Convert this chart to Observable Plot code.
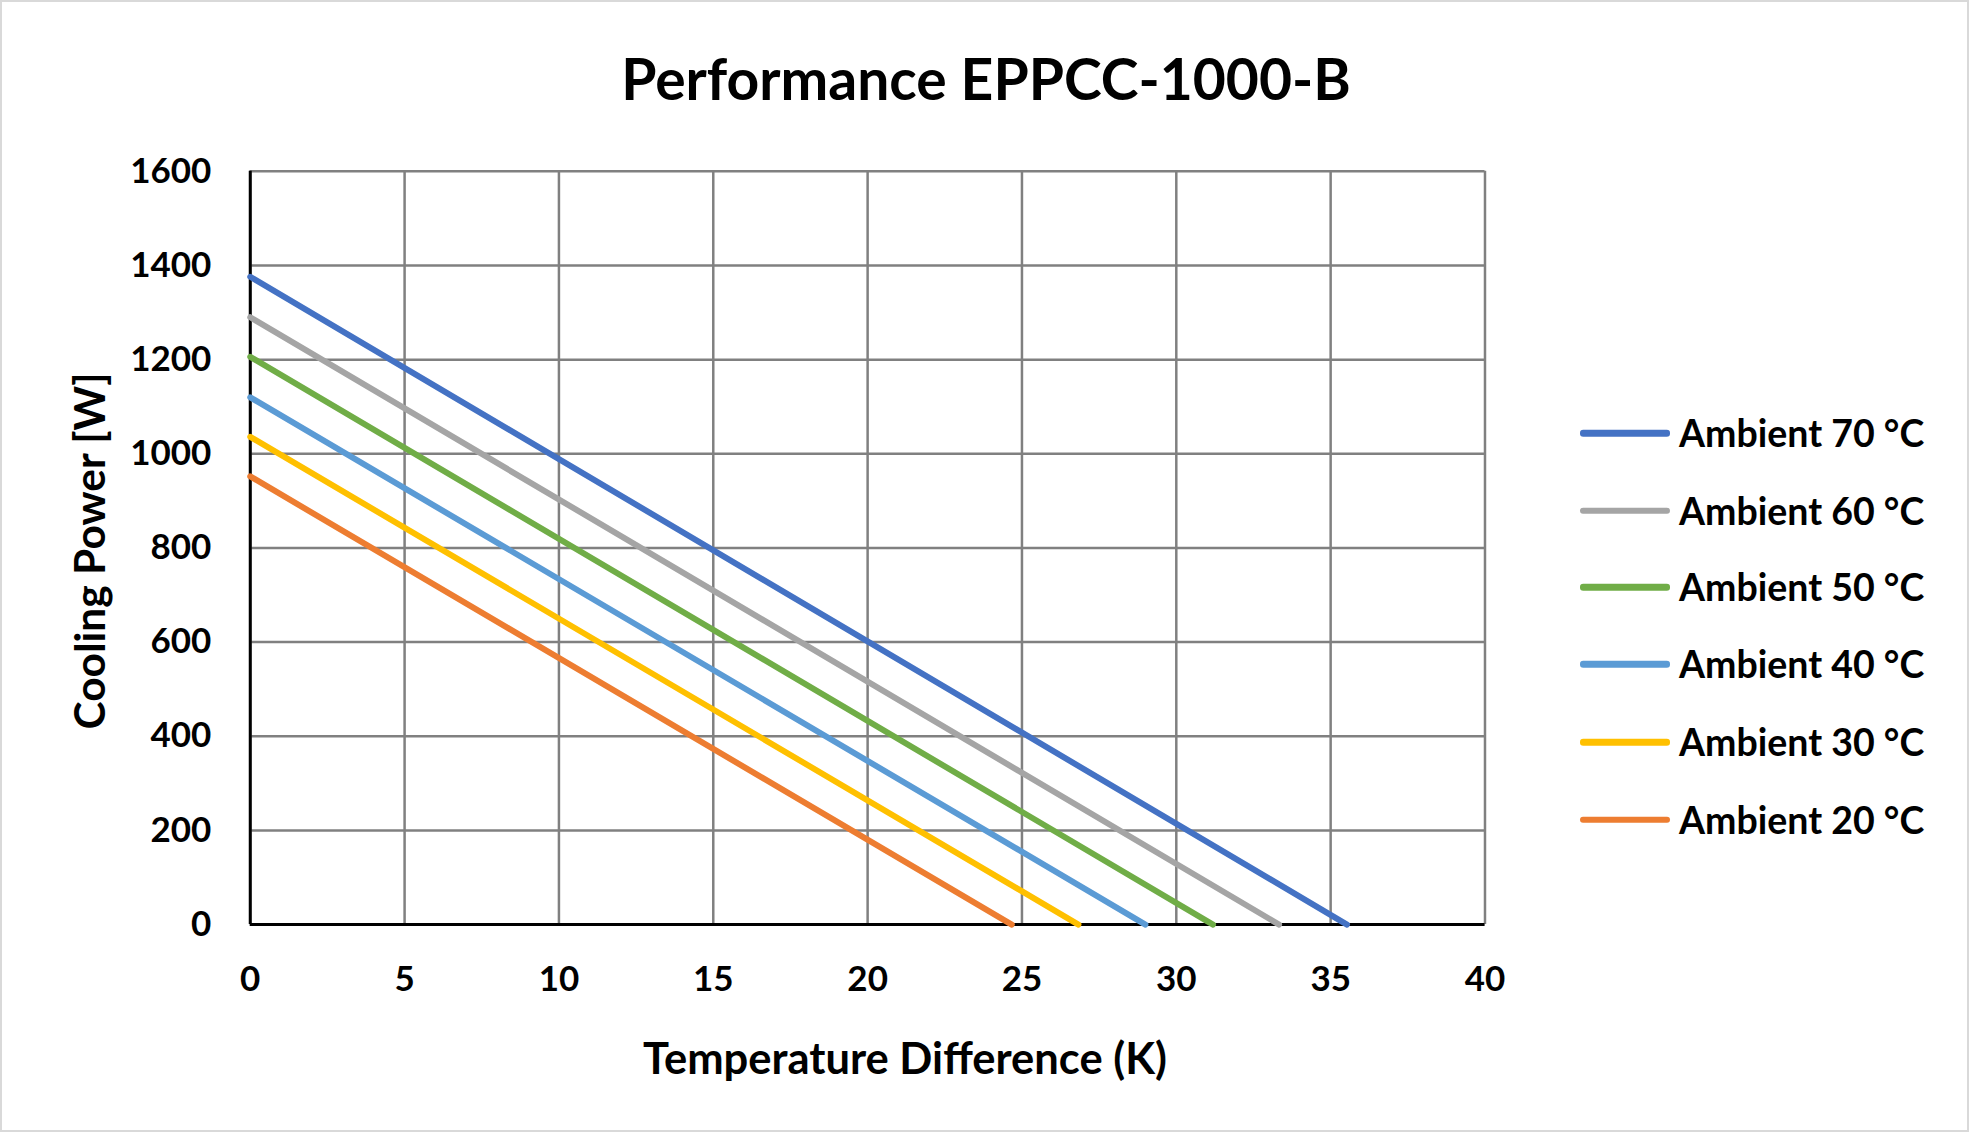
<!DOCTYPE html>
<html>
<head>
<meta charset="utf-8">
<script src="https://cdn.jsdelivr.net/npm/d3@7"></script>
<script src="https://cdn.jsdelivr.net/npm/@observablehq/plot@0.6"></script>
<style>
  html, body { margin: 0; padding: 0; background: #fff; }
  #page { position: relative; width: 1969px; height: 1132px; box-sizing: border-box; border: 2px solid #d9d9d9; overflow: hidden; font-family: Lato, "Open Sans", sans-serif; font-weight: bold; color: #000; }
  #chart { position: absolute; left: -2px; top: -2px; }
  .abs { position: absolute; white-space: nowrap; line-height: 1; }
  #title { left: 984px; top: 92px; font-size: 57px; transform: translate(-50%, -78%); }
  #xlabel { left: 903px; top: 1058px; font-size: 43.5px; transform: translate(-50%, -55%); }
  #ylabel { left: 87px; top: 549px; font-size: 42.5px; transform: translate(-50%, -50%) rotate(-90deg); }
  .legline { position: absolute; width: 90px; height: 6.5px; border-radius: 3.25px; transform: translateY(-50%); }
  .legtext { position: absolute; font-size: 37.5px; transform: translateY(-52%); white-space: nowrap; line-height: 1; }
</style>
</head>
<body>
<div id="page">
  <div id="chart"></div>
  <div id="title" class="abs">Performance EPPCC-1000-B</div>
  <div id="xlabel" class="abs">Temperature Difference (K)</div>
  <div id="ylabel" class="abs">Cooling Power [W]</div>
  <div id="legend"></div>
</div>
<script>
// Data
const series = ["Ambient 70 °C", "Ambient 60 °C", "Ambient 50 °C", "Ambient 40 °C", "Ambient 30 °C", "Ambient 20 °C"];
const powerAtZeroDiff = [1376, 1290, 1206, 1120, 1036, 952];   // W at ΔT = 0 K
const maxTempDiff = [35.53, 33.33, 31.19, 29.0, 26.83, 24.67]; // K at 0 W
const colors = ["#4472C4", "#A5A5A5", "#70AD47", "#5B9BD5", "#FFC000", "#ED7D31"];
const xTicks = [0, 5, 10, 15, 20, 25, 30, 35, 40];
const yTicks = [0, 200, 400, 600, 800, 1000, 1200, 1400, 1600];

const rows = series.flatMap((s, i) => [
  {series: s, dT: 0, power: powerAtZeroDiff[i]},
  {series: s, dT: maxTempDiff[i], power: 0}
]);

const W = 1969, H = 1132;
const chart = Plot.plot({
  width: W,
  height: H,
  marginLeft: 250,
  marginRight: W - 1486,
  marginTop: 171,
  marginBottom: H - 925,
  style: {fontFamily: "Lato, 'Open Sans', sans-serif", background: "transparent", overflow: "visible"},
  x: {domain: [0, 40], label: null},
  y: {domain: [0, 1600], label: null},
  color: {domain: series, range: colors},
  marks: [
    Plot.gridX(xTicks, {stroke: "#808080", strokeOpacity: 1, strokeWidth: 2.5}),
    Plot.gridY(yTicks, {stroke: "#808080", strokeOpacity: 1, strokeWidth: 2.5}),
    Plot.axisX(xTicks, {tickSize: 0, tickPadding: 42, fontSize: 35, fontWeight: "bold", fill: "#000", label: null, tickFormat: d3.format("d")}),
    Plot.axisY(yTicks, {tickSize: 0, tickPadding: 39, fontSize: 35, fontWeight: "bold", fill: "#000", label: null, tickFormat: d3.format("d")}),
    Plot.ruleX([0], {stroke: "#000", strokeWidth: 3}),
    Plot.ruleY([0], {stroke: "#000", strokeWidth: 3}),
    Plot.line(rows, {x: "dT", y: "power", z: "series", stroke: "series", strokeWidth: 6, strokeLinecap: "round"})
  ]
});
document.getElementById("chart").appendChild(chart);

// Legend
const legend = document.getElementById("legend");
const legendRowY = [431, 508.5, 585, 662, 740, 817.5];
series.forEach((s, i) => {
  const ln = document.createElement("div");
  ln.className = "legline";
  ln.style.left = "1578px";
  ln.style.top = legendRowY[i] + "px";
  ln.style.background = colors[i];
  legend.appendChild(ln);
  const tx = document.createElement("div");
  tx.className = "legtext";
  tx.style.left = "1677px";
  tx.style.top = legendRowY[i] + "px";
  tx.textContent = s;
  legend.appendChild(tx);
});
</script>
</body>
</html>
